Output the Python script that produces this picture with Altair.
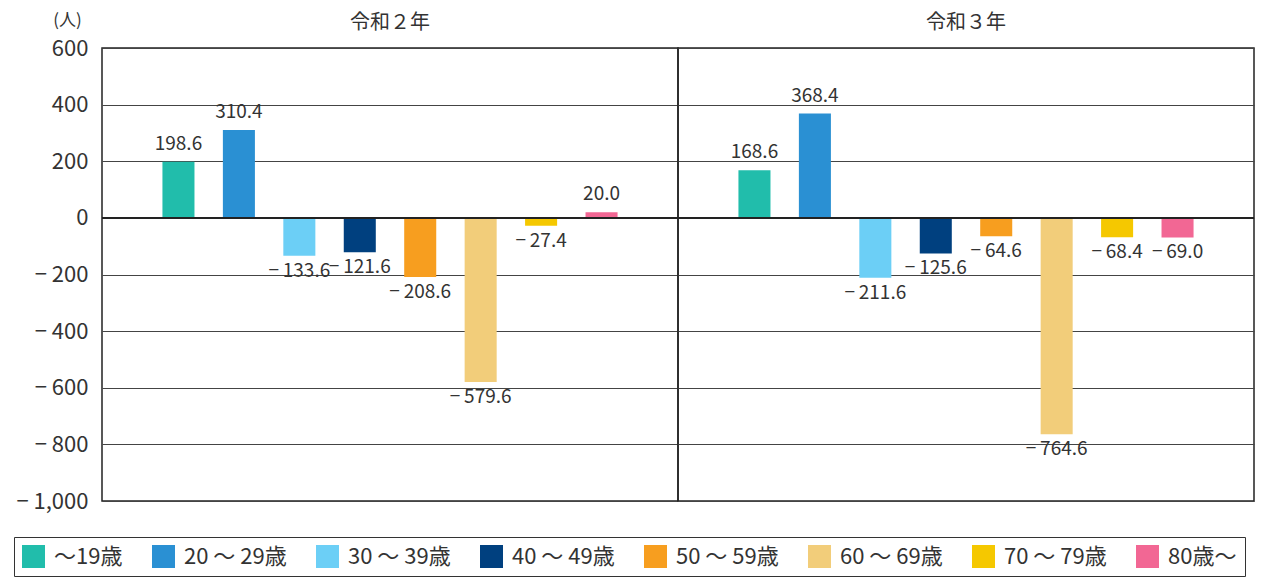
import altair as alt
import pandas as pd

years = ["令和２年", "令和３年"]
ages = ["～19歳", "20 ～ 29歳", "30 ～ 39歳", "40 ～ 49歳",
        "50 ～ 59歳", "60 ～ 69歳", "70 ～ 79歳", "80歳～"]
values_r2 = [198.6, 310.4, -133.6, -121.6, -208.6, -579.6, -27.4, 20.0]
values_r3 = [168.6, 368.4, -211.6, -125.6, -64.6, -764.6, -68.4, -69.0]
colors = ["#21bdab", "#2a90d3", "#6ccff6", "#00407f",
          "#f79e1f", "#f2cd7a", "#f5c800", "#f26794"]
y_ticks = [-1000, -800, -600, -400, -200, 0, 200, 400, 600]

rows = []
for yr, vals in zip(years, [values_r2, values_r3]):
    for a, v in zip(ages, vals):
        rows.append({"year": yr, "age": a, "value": v})
df = pd.DataFrame(rows)

FONT = "Noto Sans CJK JP"
TXT = "#333333"
PANEL_W = 576

x_enc = alt.X("age:N", sort=ages, axis=None,
              scale=alt.Scale(paddingInner=0.47, paddingOuter=1.0))

bars = alt.Chart().mark_bar().encode(
    x=x_enc,
    y=alt.Y("value:Q",
            scale=alt.Scale(domain=[-1000, 600], nice=False, zero=False),
            axis=alt.Axis(values=y_ticks, title="(人)", titleAngle=0,
                          titleX=-35, titleY=-28, titleAlign="center",
                          titleBaseline="middle", titleFont=FONT,
                          titleFontSize=17, titleFontWeight="normal",
                          titleColor=TXT,
                          labelFont=FONT, labelFontSize=22, labelColor=TXT,
                          labelPadding=14, ticks=False, domain=False,
                          grid=True, gridColor="#444444", gridWidth=1,
                          minExtent=89, maxExtent=89,
                          labelExpr="datum.value < 0 ? '− ' + format(-datum.value, ',') : format(datum.value, ',')")),
    color=alt.Color("age:N", sort=ages,
                    scale=alt.Scale(domain=ages, range=colors),
                    legend=alt.Legend(title=None, orient="none",
                                      legendX=-88, legendY=489,
                                      direction="horizontal", columns=8,
                                      columnPadding=29, symbolType="square",
                                      symbolSize=529, symbolStrokeWidth=0,
                                      symbolOpacity=1,
                                      labelFont=FONT, labelFontSize=22,
                                      labelColor=TXT, labelOffset=9,
                                      labelLimit=300,
                                      strokeColor="#333333",
                                      padding=8,
                                      fillColor="white")),
)

lab_expr = "datum.value < 0 ? '−\u2009' + format(-datum.value, '.1f') : format(datum.value, '.1f')"

pos_text = alt.Chart().transform_filter("datum.value >= 0").transform_calculate(
    label=lab_expr
).mark_text(font=FONT, fontSize=19, color=TXT, baseline="bottom", dy=-8).encode(
    x=x_enc, y="value:Q", text="label:N")

neg_text = alt.Chart().transform_filter("datum.value < 0").transform_calculate(
    label=lab_expr
).mark_text(font=FONT, fontSize=19, color=TXT, baseline="top", dy=6).encode(
    x=x_enc, y="value:Q", text="label:N")

zero = alt.Chart().mark_rule(color="#222222", strokeWidth=2).encode(
    y=alt.datum(0))

chart = alt.layer(bars, zero, pos_text, neg_text, data=df).properties(
    width=PANEL_W, height=453
).facet(
    column=alt.Column("year:N", sort=years,
                      header=alt.Header(title=None, labelFont=FONT,
                                        labelFontSize=20, labelColor=TXT,
                                        labelPadding=15)),
    spacing=0,
    bounds="flush",
).configure_facet(spacing=0).configure_view(
    stroke="#222222", strokeWidth=1.5
).properties(
    padding={"left": 5, "top": 3, "right": 0, "bottom": 0}
)

chart.save("out.html", embed_options={"renderer": "svg", "actions": False})
